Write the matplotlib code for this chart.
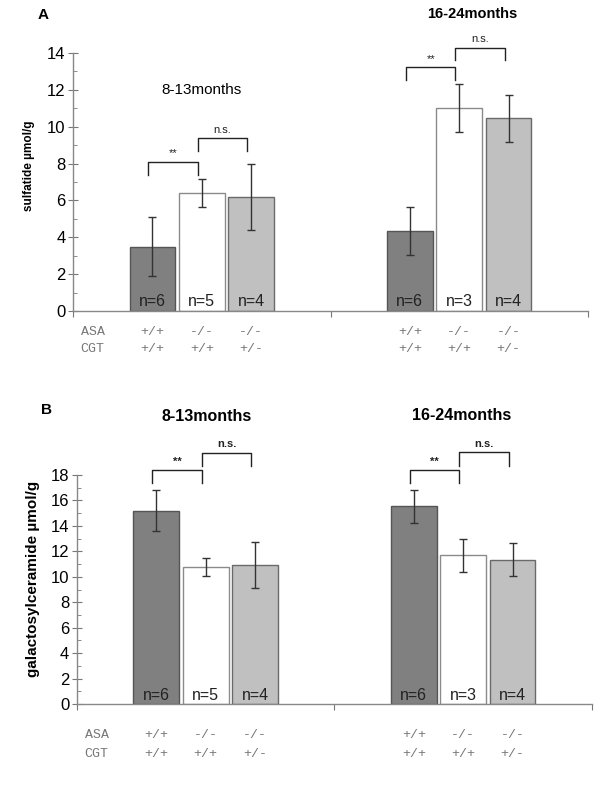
"""Sulfatide and galactosylceramide levels by genotype and age."""

import matplotlib
matplotlib.use("Agg")
import matplotlib.pyplot as plt
import matplotlib.transforms as mtransforms
from matplotlib.ticker import MultipleLocator

plt.rcParams["font.family"] = ["Liberation Sans", "DejaVu Sans"]

# data
age_groups = ["8-13months", "16-24months"]
asa_genotype = ["+/+", "-/-", "-/-"]
cgt_genotype = ["+/+", "+/+", "+/-"]
n_mice = [[6, 5, 4], [6, 3, 4]]

sulfatide_mean = [[3.5, 6.4, 6.2], [4.35, 11.0, 10.45]]
sulfatide_err = [[1.6, 0.75, 1.8], [1.3, 1.3, 1.3]]
galcer_mean = [[15.2, 10.8, 10.9], [15.55, 11.7, 11.35]]
galcer_err = [[1.6, 0.7, 1.8], [1.3, 1.3, 1.3]]

sig_labels = ["**", "n.s."]
sig_height_a = [[8.1, 9.4], [13.25, 14.3]]
sig_height_b = [[18.4, 19.75], [18.4, 19.8]]

bar_colors = ["#808080", "#ffffff", "#c0c0c0"]
edge_colors = ["#555555", "#8a8a8a", "#6a6a6a"]
offsets = [-0.192, 0.0, 0.192]
width = 0.177


def draw_panel(ax, means, errs, sig_heights, ymax, drop, bold_sig):
    trans = mtransforms.blended_transform_factory(ax.transData, ax.transAxes)
    for g in range(2):
        xs = [g + 0.5 + o for o in offsets]
        ax.bar(xs, means[g], width=width, color=bar_colors, edgecolor=edge_colors,
               linewidth=1.0, zorder=2)
        ax.errorbar(xs, means[g], yerr=errs[g], fmt="none", ecolor="#333333",
                    elinewidth=1.0, capsize=3, capthick=1.0, zorder=3)
        for x, n in zip(xs, n_mice[g]):
            ax.text(x, 0.006, f"n={n}", transform=trans, ha="center", va="bottom",
                    fontsize=11.5, color="#222222", zorder=4)
        # significance brackets
        for k in range(2):
            x0, x1 = xs[k] - 0.015, xs[k + 1] - 0.015
            h = sig_heights[g][k]
            ax.plot([x0, x0, x1, x1], [h - drop, h, h, h - drop], color="#222222",
                    lw=1.0, clip_on=False, zorder=3)
            ax.text((x0 + x1) / 2, h + drop * 0.25, sig_labels[k], ha="center",
                    va="bottom", fontsize=8, clip_on=False,
                    fontweight="bold" if bold_sig else "normal", color="#222222")

    ax.set_xlim(0, 2)
    ax.set_ylim(0, ymax)
    ax.yaxis.set_major_locator(MultipleLocator(2))
    ax.yaxis.set_minor_locator(MultipleLocator(1))
    ax.set_xticks([0, 1, 2])
    ax.set_xticklabels([])
    ax.tick_params(axis="y", which="major", direction="inout", length=7,
                   labelsize=12, color="#777777", pad=2)
    ax.tick_params(axis="y", which="minor", direction="in", length=3, color="#777777")
    ax.tick_params(axis="x", which="major", direction="out", length=4, color="#777777")
    for side in ["top", "right"]:
        ax.spines[side].set_visible(False)
    for side in ["left", "bottom"]:
        ax.spines[side].set_color("#888888")
        ax.spines[side].set_linewidth(1.0)


def draw_genotypes(ax, y_asa, y_cgt):
    trans = mtransforms.blended_transform_factory(ax.transData, ax.transAxes)
    mono = dict(family="Liberation Mono", fontsize=9.5, color="#777777")
    ax.text(0.03, y_asa, "ASA", transform=trans, ha="left", va="center", **mono)
    ax.text(0.03, y_cgt, "CGT", transform=trans, ha="left", va="center", **mono)
    for g in range(2):
        for o, a, c in zip(offsets, asa_genotype, cgt_genotype):
            x = g + 0.5 + o
            ax.text(x, y_asa, a, transform=trans, ha="center", va="center", **mono)
            ax.text(x, y_cgt, c, transform=trans, ha="center", va="center", **mono)


fig = plt.figure(figsize=(6.0, 7.86), dpi=100)
ax_a = fig.add_axes([0.1217, 0.6043, 0.8583, 0.3282])
ax_b = fig.add_axes([0.1283, 0.1043, 0.8583, 0.2913])

draw_panel(ax_a, sulfatide_mean, sulfatide_err, sig_height_a, 14, 0.7, False)
draw_panel(ax_b, galcer_mean, galcer_err, sig_height_b, 18, 1.05, True)
draw_genotypes(ax_a, -0.081, -0.147)
draw_genotypes(ax_b, -0.135, -0.218)

ax_a.text(0.5, 12.0, age_groups[0], ha="center", va="center", fontsize=11)
ax_a.text(1.55, 16.1, age_groups[1], ha="center", va="center", fontsize=10.5,
          fontweight="bold", clip_on=False)
ax_b.text(0.505, 22.6, age_groups[0], ha="center", va="center", fontsize=11.5,
          fontweight="bold", clip_on=False)
ax_b.text(1.494, 22.65, age_groups[1], ha="center", va="center", fontsize=11.5,
          fontweight="bold", clip_on=False)

fig.text(0.072, 0.981, "A", fontsize=11, fontweight="bold", ha="center", va="center")
fig.text(0.077, 0.478, "B", fontsize=11, fontweight="bold", ha="center", va="center")
fig.text(0.048, 0.789, "sulfatide µmol/g", rotation=90, fontsize=8.5,
         fontweight="bold", ha="center", va="center")
fig.text(0.055, 0.263, "galactosylceramide µmol/g", rotation=90, fontsize=11,
         fontweight="bold", ha="center", va="center")

fig.savefig("out.png", dpi=100)
